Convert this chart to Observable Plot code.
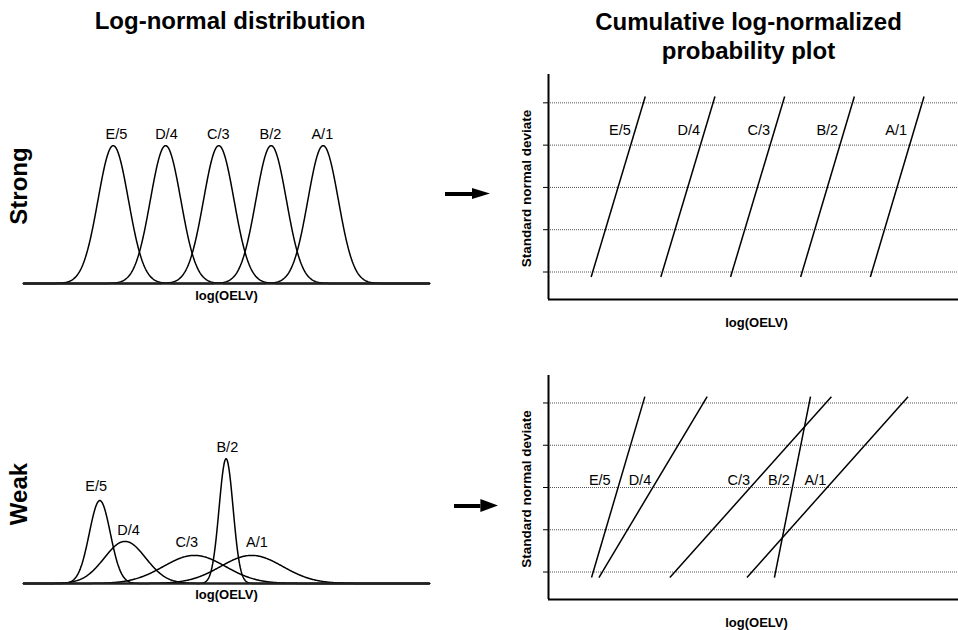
<!DOCTYPE html>
<html>
<head>
<meta charset="utf-8">
<script src="https://cdn.jsdelivr.net/npm/d3@7"></script>
<script src="https://cdn.jsdelivr.net/npm/@observablehq/plot@0.6"></script>
<style>
  html, body { margin: 0; padding: 0; background: white; }
  #root { position: relative; width: 958px; height: 630px; overflow: hidden; background: white;
          font-family: "Liberation Sans", Arial, sans-serif; color: black; }
  .abs { position: absolute; }
  .title { font-weight: bold; font-size: 24px; text-align: center; white-space: nowrap; }
  .rowlab { font-weight: bold; font-size: 24px; width: 120px; height: 24px; line-height: 24px;
            text-align: center; transform: rotate(-90deg); }
</style>
</head>
<body>
<div id="root">
  <div class="abs title" style="left:0px; top:9px; width:460px; line-height:24px;">Log-normal distribution</div>
  <div class="abs title" style="left:539px; top:6.5px; width:419px; line-height:29px;">Cumulative log-normalized<br>probability plot</div>
  <div class="abs rowlab" style="left:-41px; top:174px;">Strong</div>
  <div class="abs rowlab" style="left:-41px; top:481.5px;">Weak</div>
</div>
<script>
// ---------- data ----------
const categories = ["E/5", "D/4", "C/3", "B/2", "A/1"];

// Left column: log-normal distributions (mean and SD of log(OELV), arbitrary units 0-10)
const strongMean = [2.21, 3.50, 4.81, 6.10, 7.38];
const strongSD   = [0.375, 0.375, 0.375, 0.375, 0.375];
const strongLabelX = [2.29, 3.52, 4.80, 6.08, 7.36];
const strongLabelY = [1.154, 1.154, 1.154, 1.154, 1.154];

const weakMean = [1.88, 2.50, 4.21, 4.99, 5.62];
const weakSD   = [0.259, 0.51, 0.764, 0.172, 0.764];
const weakLabelX = [1.79, 2.59, 4.02, 5.02, 5.75];
const weakLabelY = [1.81, 0.98, 0.77, 2.53, 0.755];

// Right column: cumulative probability (probit) lines, standard normal deviate z
const zTicks = [-2, -1, 0, 1, 2];
const strongLineZ  = [-2.12, 2.15];
const strongLineX1 = [1.04, 2.74, 4.44, 6.15, 7.85];
const strongLineX2 = [2.36, 4.06, 5.76, 7.46, 9.16];
const strongProbLabelX = [1.74, 3.42, 5.13, 6.80, 8.48];
const strongProbLabelZ = [1.345, 1.345, 1.345, 1.345, 1.345];

const weakLineZ  = [-2.13, 2.15];
const weakLineX1 = [1.05, 1.23, 2.96, 5.51, 4.84];
const weakLineX2 = [2.35, 3.87, 6.90, 6.39, 8.77];
const weakProbLabelX = [1.25, 2.23, 4.64, 5.62, 6.51];
const weakProbLabelZ = [0.166, 0.166, 0.166, 0.166, 0.166];

const xLabel = "log(OELV)";
const zLabel = "Standard normal deviate";

// arrow shape (shaft end / head polygon in unit coordinates)
const arrowShaftEnd = 0.6;
const arrowHead = [{x: 0.6, lo: -1, hi: 1}, {x: 1, lo: 0, hi: 0}];

// ---------- helpers ----------
const root = document.getElementById("root");
const FONT = "Liberation Sans, Arial, sans-serif";
function place(el, left, top) {
  el.style.position = "absolute";
  el.style.left = left + "px";
  el.style.top = top + "px";
  root.appendChild(el);
}
const xs = d3.range(0, 10.0001, 0.02);
const pdf = (x, m, s) => Math.exp(-0.5 * ((x - m) / s) ** 2) / (s * Math.sqrt(2 * Math.PI));

function densityPanel({means, sds, labelX, labelY, yMax, marginTop, marginBottom, height, labelDy}) {
  const pts = [];
  categories.forEach((c, i) => xs.forEach(x => pts.push({c, x, y: pdf(x, means[i], sds[i])})));
  return Plot.plot({
    width: 440, height, marginLeft: 23, marginRight: 11, marginTop, marginBottom,
    style: {background: "transparent", fontFamily: FONT, overflow: "visible"},
    x: {domain: [0, 10], axis: null},
    y: {domain: [0, yMax], axis: null},
    marks: [
      Plot.line(pts, {x: "x", y: "y", z: "c", stroke: "black", strokeWidth: 1.5}),
      Plot.ruleY([0], {stroke: "#222", strokeWidth: 2}),
      Plot.text(categories, {x: (d, i) => labelX[i], y: (d, i) => labelY[i], text: d => d,
        fontSize: 14.5, fill: "black"}),
      Plot.text([xLabel], {frameAnchor: "bottom", dy: labelDy, text: d => d,
        textAnchor: "middle", lineAnchor: "middle",
        fontWeight: "bold", fontSize: 13, fill: "black"})
    ]
  });
}

function probPanel({x1, x2, z, labelX, labelZ, yDomain, marginTop, marginBottom, height}) {
  const lines = categories.map((c, i) => ({c, x1: x1[i], x2: x2[i], y1: z[0], y2: z[1]}));
  return Plot.plot({
    width: 478, height, marginLeft: 68, marginRight: 0, marginTop, marginBottom,
    style: {background: "transparent", fontFamily: FONT, overflow: "visible"},
    x: {domain: [0, 10], axis: null},
    y: {domain: yDomain},
    marks: [
      Plot.ruleY(zTicks, {stroke: "#555", strokeWidth: 1, strokeDasharray: "1,1"}),
      Plot.axisY({ticks: zTicks, tickSize: 5, tickFormat: () => "", label: null, stroke: "black"}),
      Plot.link(lines, {x1: "x1", y1: "y1", x2: "x2", y2: "y2", stroke: "black", strokeWidth: 1.5}),
      Plot.ruleX([0], {stroke: "black", strokeWidth: 2}),
      Plot.ruleY([yDomain[0]], {stroke: "black", strokeWidth: 2}),
      Plot.text(categories, {x: (d, i) => labelX[i], y: (d, i) => labelZ[i], text: d => d,
        fontSize: 14.5, fill: "black"}),
      Plot.text([zLabel], {frameAnchor: "left", rotate: -90, dx: -21.5, dy: 1.5, text: d => d,
        textAnchor: "middle", lineAnchor: "middle",
        fontWeight: "bold", fontSize: 13.5, fill: "black"}),
      Plot.text([xLabel], {frameAnchor: "bottom", dx: 3, dy: 23, text: d => d,
        textAnchor: "middle", lineAnchor: "middle",
        fontWeight: "bold", fontSize: 13, fill: "black"})
    ]
  });
}

function arrowPlot({width, height, marginLeft, marginRight, marginTop, marginBottom}) {
  return Plot.plot({
    width, height, marginLeft, marginRight, marginTop, marginBottom,
    style: {background: "transparent", overflow: "visible"},
    x: {domain: [0, 1], axis: null},
    y: {domain: [-1, 1], axis: null},
    marks: [
      Plot.ruleY([0], {x1: 0, x2: arrowShaftEnd, stroke: "black", strokeWidth: 4}),
      Plot.areaY(arrowHead, {x: "x", y1: "lo", y2: "hi", fill: "black"})
    ]
  });
}

// ---------- panels ----------
place(densityPanel({means: strongMean, sds: strongSD, labelX: strongLabelX, labelY: strongLabelY,
  yMax: 1.25, marginTop: 21, marginBottom: 32, height: 215, labelDy: 12}), 0, 100);

place(densityPanel({means: weakMean, sds: weakSD, labelX: weakLabelX, labelY: weakLabelY,
  yMax: 2.6, marginTop: 23, marginBottom: 30, height: 193, labelDy: 11}), 0, 420);

place(probPanel({x1: strongLineX1, x2: strongLineX2, z: strongLineZ, labelX: strongProbLabelX,
  labelZ: strongProbLabelZ, yDomain: [-2.65, 2.67], marginTop: 14, marginBottom: 41, height: 280}), 480, 60);

place(probPanel({x1: weakLineX1, x2: weakLineX2, z: weakLineZ, labelX: weakProbLabelX,
  labelZ: weakProbLabelZ, yDomain: [-2.65, 2.65], marginTop: 15, marginBottom: 31, height: 270}), 480, 360);

place(arrowPlot({width: 55, height: 20, marginLeft: 5, marginRight: 5, marginTop: 5, marginBottom: 4}), 440, 183);
place(arrowPlot({width: 54, height: 24, marginLeft: 5, marginRight: 5, marginTop: 5, marginBottom: 6}), 449, 494);
</script>
</body>
</html>
